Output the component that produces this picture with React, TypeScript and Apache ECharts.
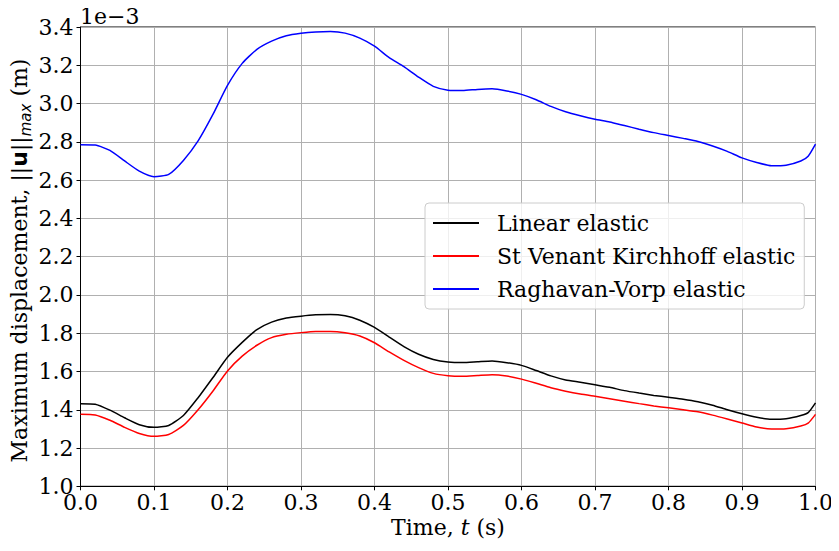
import React, { useEffect, useRef } from "react";
import * as echarts from "echarts";

const times = [
  0, 0.02, 0.04, 0.06, 0.08, 0.1, 0.12, 0.14, 0.16, 0.18, 0.2, 0.22, 0.24, 0.26, 0.28, 0.3,
  0.32, 0.34, 0.36, 0.38, 0.4, 0.42, 0.44, 0.46, 0.48, 0.5, 0.52, 0.54, 0.56, 0.58, 0.6,
  0.62, 0.64, 0.66, 0.68, 0.7, 0.72, 0.74, 0.76, 0.78, 0.8, 0.82, 0.84, 0.86, 0.88, 0.9,
  0.92, 0.94, 0.96, 0.98, 0.99, 1.0,
];

const linearElastic = [
  1.432, 1.429, 1.398, 1.358, 1.322, 1.308, 1.318, 1.37, 1.463, 1.567, 1.674, 1.752, 1.819,
  1.858, 1.879, 1.889, 1.896, 1.898, 1.891, 1.868, 1.83, 1.78, 1.73, 1.69, 1.663, 1.65,
  1.647, 1.651, 1.655, 1.646, 1.632, 1.605, 1.577, 1.556, 1.544, 1.531, 1.517, 1.5, 1.487,
  1.475, 1.465, 1.455, 1.442, 1.424, 1.4, 1.379, 1.361, 1.35, 1.353, 1.37, 1.385, 1.436,
];

const stVenantKirchhoff = [
  1.376, 1.373, 1.345, 1.308, 1.276, 1.261, 1.271, 1.318, 1.4, 1.497, 1.603, 1.68, 1.737,
  1.777, 1.794, 1.803, 1.809, 1.809, 1.802, 1.785, 1.75, 1.702, 1.658, 1.62, 1.59, 1.578,
  1.575, 1.579, 1.583, 1.576, 1.56, 1.538, 1.515, 1.497, 1.482, 1.47, 1.458, 1.445, 1.432,
  1.42, 1.41, 1.4, 1.389, 1.372, 1.352, 1.331, 1.31, 1.299, 1.301, 1.315, 1.33, 1.376,
];

const raghavanVorp = [
  2.785, 2.783, 2.755, 2.7, 2.647, 2.618, 2.63, 2.703, 2.805, 2.942, 3.095, 3.21, 3.283,
  3.326, 3.354, 3.367, 3.374, 3.376, 3.368, 3.342, 3.3, 3.24, 3.193, 3.138, 3.09, 3.07,
  3.068, 3.074, 3.077, 3.066, 3.048, 3.02, 2.985, 2.957, 2.936, 2.918, 2.904, 2.885, 2.866,
  2.848, 2.833, 2.818, 2.802, 2.778, 2.75, 2.716, 2.692, 2.675, 2.678, 2.7, 2.725, 2.788,
];

const seriesNames = ["Linear elastic", "St Venant Kirchhoff elastic", "Raghavan-Vorp elastic"];
const seriesColors = ["#000000", "#ff0000", "#0000ff"];
const seriesValues = [linearElastic, stVenantKirchhoff, raghavanVorp];

const SERIF = "DejaVu Serif";
const SANS = "DejaVu Sans";
const FS = 22;

type Piece = {
  text: string;
  family: string;
  size: number;
  style?: string;
  weight?: string;
  dy?: number;
};

const xTitle: Piece[] = [
  { text: "Time, ", family: SERIF, size: FS },
  { text: "t", family: SERIF, size: FS, style: "italic" },
  { text: " (s)", family: SERIF, size: FS },
];

const yTitle: Piece[] = [
  { text: "Maximum displacement, ", family: SERIF, size: FS },
  { text: "||", family: SANS, size: FS },
  { text: "u", family: SANS, size: FS, weight: "bold" },
  { text: "||", family: SANS, size: FS },
  { text: "max", family: SANS, size: 15, style: "italic", dy: 6 },
  { text: " (m)", family: SERIF, size: FS },
];

function buildPieces(pieces: Piece[]) {
  const canvas = document.createElement("canvas");
  const ctx = canvas.getContext("2d")!;
  const widths = pieces.map((p) => {
    ctx.font = `${p.style || "normal"} ${p.weight || "normal"} ${p.size}px "${p.family}"`;
    return ctx.measureText(p.text).width;
  });
  const total = widths.reduce((a, b) => a + b, 0);
  let cx = -total / 2;
  return pieces.map((p, i) => {
    const el = {
      type: "text",
      x: cx,
      y: p.dy || 0,
      style: {
        text: p.text,
        fontFamily: p.family,
        fontSize: p.size,
        fontStyle: p.style || "normal",
        fontWeight: p.weight || "normal",
        fill: "#000000",
        align: "left",
        verticalAlign: "middle",
      },
    };
    cx += widths[i];
    return el;
  });
}

export default function App() {
  const ref = useRef<HTMLDivElement>(null);

  useEffect(() => {
    if (!ref.current) return;
    const chart = echarts.init(ref.current, null, { renderer: "svg" });
    const option = {
      animation: false,
      backgroundColor: "#ffffff",
      textStyle: { fontFamily: SERIF },
      grid: {
        left: 80.5,
        right: 23.5,
        top: 27,
        bottom: 64.7,
        show: true,
        borderColor: "#000000",
        borderWidth: 1,
        containLabel: false,
      },
      graphic: [
        {
          type: "text",
          x: 80,
          y: 16,
          style: {
            text: "1e\u22123",
            fontFamily: SERIF,
            fontSize: FS,
            fill: "#000000",
            align: "left",
            verticalAlign: "middle",
          },
        },
        { type: "group", x: 448, y: 527.5, children: buildPieces(xTitle) },
        {
          type: "group",
          x: 19.5,
          y: 260.5,
          rotation: Math.PI / 2,
          children: buildPieces(yTitle),
        },
      ],
      legend: {
        orient: "vertical",
        left: 425,
        top: 203,
        padding: [7, 9, 7, 8],
        icon: "rect",
        itemWidth: 46,
        itemHeight: 2,
        itemGap: 7,
        backgroundColor: "rgba(255,255,255,0.8)",
        borderColor: "#cccccc",
        borderWidth: 1,
        borderRadius: 4,
        textStyle: {
          fontFamily: SERIF,
          fontSize: FS,
          color: "#000000",
          lineHeight: 26,
          padding: [0, 0, 0, 13],
        },
        data: seriesNames,
      },
      xAxis: {
        type: "value",
        min: 0,
        max: 1,
        interval: 0.1,
        axisLine: { show: true, lineStyle: { color: "#000000", width: 1 } },
        axisTick: { show: true, inside: false, length: 4, lineStyle: { color: "#000000" } },
        axisLabel: {
          fontFamily: SERIF,
          fontSize: FS,
          color: "#000000",
          margin: 5,
          formatter: (v: number) => v.toFixed(1),
        },
        splitLine: { show: true, lineStyle: { color: "#b0b0b0", width: 1 } },
      },
      yAxis: {
        type: "value",
        min: 1.0,
        max: 3.4,
        interval: 0.2,
        axisLine: { show: true, lineStyle: { color: "#000000", width: 1 } },
        axisTick: { show: true, inside: false, length: 4, lineStyle: { color: "#000000" } },
        axisLabel: {
          fontFamily: SERIF,
          fontSize: FS,
          color: "#000000",
          margin: 7,
          formatter: (v: number) => v.toFixed(1),
        },
        splitLine: { show: true, lineStyle: { color: "#b0b0b0", width: 1 } },
      },
      series: seriesNames.map((name, k) => ({
        name,
        type: "line",
        data: times.map((t, i) => [t, seriesValues[k][i]]),
        showSymbol: false,
        symbol: "none",
        smooth: 0.2,
        lineStyle: { color: seriesColors[k], width: 1.5 },
        itemStyle: { color: seriesColors[k] },
      })),
    };
    chart.setOption(option as any);
    return () => chart.dispose();
  }, []);

  return <div ref={ref} style={{ width: 839, height: 551, margin: -8 }} />;
}
